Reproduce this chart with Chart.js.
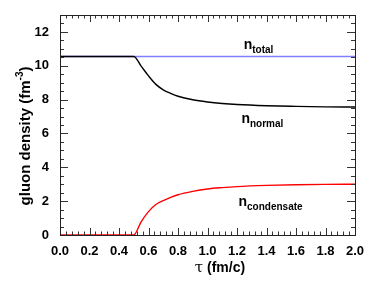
<!DOCTYPE html>
<html>
<head>
<meta charset="utf-8">
<script src="https://cdn.jsdelivr.net/npm/chart.js@4"></script>
<style>
  html, body { margin: 0; padding: 0; background: #fff; }
  #wrap { width: 374px; height: 294px; }
</style>
</head>
<body>
<div id="wrap"><canvas id="chart" width="374" height="294"></canvas></div>
<script>
// tau (fm/c) sample points
const tau = [0.0, 0.5, 0.55, 0.6, 0.65, 0.7, 0.75, 0.8, 0.9, 1.0, 1.1, 1.2, 1.4, 1.6, 1.8, 2.0];
const nTotal = [10.55, 10.55, 10.55, 10.55, 10.55, 10.55, 10.55, 10.55, 10.55, 10.55, 10.55, 10.55, 10.55, 10.55, 10.55, 10.55];
const nNormal = [10.55, 10.55, 9.98, 9.4, 8.9, 8.58, 8.37, 8.2, 7.99, 7.86, 7.77, 7.71, 7.64, 7.6, 7.57, 7.56];
const nCondensate = [0, 0, 0.78, 1.38, 1.8, 2.03, 2.22, 2.38, 2.58, 2.72, 2.8, 2.86, 2.93, 2.97, 2.99, 3.0];

const xTickLabels = ['0.0', '0.2', '0.4', '0.6', '0.8', '1.0', '1.2', '1.4', '1.6', '1.8', '2.0'];
const yTickLabels = ['0', '2', '4', '6', '8', '10', '12'];

// curve labels: [tau, density, main, subscript]
const curveLabels = [
    [1.245, 10.99, 'n', 'total'],
    [1.23, 6.6, 'n', 'normal'],
    [1.21, 1.72, 'n', 'condensate']
];

const FONT = '"Liberation Sans", Arial, sans-serif';

function toPoints(ys) {
    return tau.map((t, i) => ({ x: t, y: ys[i] }));
}

// ROOT style ticks pointing into the frame
const innerTicks = {
    id: 'innerTicks',
    afterDraw(chart) {
        const ctx = chart.ctx;
        const a = chart.chartArea;
        const xs = chart.scales.x;
        const ys = chart.scales.y;
        ctx.save();
        ctx.strokeStyle = '#333';
        ctx.lineWidth = 1;
        ctx.beginPath();
        for (let i = 0; i <= 50; i++) {
            const px = Math.round(xs.getPixelForValue(i * 0.04)) + 0.5;
            const len = i % 5 === 0 ? 7 : 3.5;
            ctx.moveTo(px, a.bottom); ctx.lineTo(px, a.bottom - len);
            ctx.moveTo(px, a.top); ctx.lineTo(px, a.top + len);
        }
        for (let i = 0; i <= 26; i++) {
            const py = Math.round(ys.getPixelForValue(i * 0.5)) + 0.5;
            const len = i % 4 === 0 ? 8 : 4;
            ctx.moveTo(a.left, py); ctx.lineTo(a.left + len, py);
            ctx.moveTo(a.right, py); ctx.lineTo(a.right - len, py);
        }
        ctx.stroke();
        ctx.strokeStyle = '#222';
        ctx.strokeRect(a.left + 0.5, a.top + 0.5, a.right - a.left, a.bottom - a.top);
        ctx.restore();
    }
};

// subscripted labels and axis titles
const textLayer = {
    id: 'textLayer',
    afterDraw(chart) {
        const ctx = chart.ctx;
        const xs = chart.scales.x;
        const ys = chart.scales.y;
        ctx.save();
        ctx.fillStyle = '#000';
        ctx.textBaseline = 'alphabetic';
        ctx.textAlign = 'left';
        curveLabels.forEach(([t, v, main, sub]) => {
            const px = xs.getPixelForValue(t);
            const py = ys.getPixelForValue(v);
            ctx.font = 'bold 14px ' + FONT;
            ctx.fillText(main, px, py);
            const w = ctx.measureText(main).width;
            ctx.font = 'bold 10px ' + FONT;
            ctx.fillText(sub, px + w, py + 4);
        });

        // x title
        ctx.font = '15px "DejaVu Serif", serif';
        const tauW = ctx.measureText('\u03c4').width;
        ctx.font = 'bold 14px ' + FONT;
        const rest = ' (fm/c)';
        const restW = ctx.measureText(rest).width;
        const xStart = 220 - (tauW + restW) / 2;
        ctx.font = '15px "DejaVu Serif", serif';
        ctx.fillText('\u03c4', xStart, 272);
        ctx.font = 'bold 14px ' + FONT;
        ctx.fillText(rest, xStart + tauW, 272);

        // y title (rotated)
        ctx.translate(30, 136);
        ctx.rotate(-Math.PI / 2);
        const main = 'gluon density (fm';
        ctx.font = 'bold 15px ' + FONT;
        const mW = ctx.measureText(main).width;
        ctx.font = 'bold 10px ' + FONT;
        const sW = ctx.measureText('-3').width;
        ctx.font = 'bold 15px ' + FONT;
        const cW = ctx.measureText(')').width;
        let x0 = -(mW + sW + cW) / 2;
        ctx.fillText(main, x0, 0);
        ctx.font = 'bold 10px ' + FONT;
        ctx.fillText('-3', x0 + mW, -7);
        ctx.font = 'bold 15px ' + FONT;
        ctx.fillText(')', x0 + mW + sW, 0);
        ctx.restore();
    }
};

const lineStyle = { borderWidth: 1.4, pointRadius: 0, fill: false, clip: 3 };

new Chart(document.getElementById('chart'), {
    type: 'line',
    data: {
        datasets: [
            Object.assign({ label: 'n_normal', data: toPoints(nNormal), borderColor: '#000000', order: 0 }, lineStyle),
            Object.assign({ label: 'n_condensate', data: toPoints(nCondensate), borderColor: '#ff0000', order: 1 }, lineStyle),
            Object.assign({ label: 'n_total', data: toPoints(nTotal), borderColor: '#7f7fff', order: 2 }, lineStyle)
        ]
    },
    options: {
        responsive: false,
        animation: false,
        devicePixelRatio: 1,
        layout: { padding: { top: 15, right: 19, left: 0, bottom: 0 } },
        plugins: { legend: { display: false }, tooltip: { enabled: false } },
        elements: { line: { cubicInterpolationMode: 'monotone' } },
        scales: {
            x: {
                type: 'linear',
                min: 0,
                max: 2,
                grid: { display: false },
                border: { display: false },
                afterFit: (s) => { s.height = 59; },
                afterBuildTicks: (s) => { s.ticks = xTickLabels.map(l => ({ value: parseFloat(l) })); },
                ticks: {
                    padding: 1,
                    maxRotation: 0,
                    autoSkip: false,
                    color: '#000',
                    font: { family: FONT, size: 13, weight: 'bold' },
                    callback: (v) => v.toFixed(1)
                }
            },
            y: {
                type: 'linear',
                min: 0,
                max: 13,
                grid: { display: false },
                border: { display: false },
                afterFit: (s) => { s.width = 60; },
                afterBuildTicks: (s) => { s.ticks = yTickLabels.map(l => ({ value: parseFloat(l) })); },
                ticks: {
                    padding: 3,
                    autoSkip: false,
                    color: '#000',
                    font: { family: FONT, size: 13, weight: 'bold' },
                    callback: (v) => String(v)
                }
            }
        }
    },
    plugins: [innerTicks, textLayer]
});
</script>
</body>
</html>
